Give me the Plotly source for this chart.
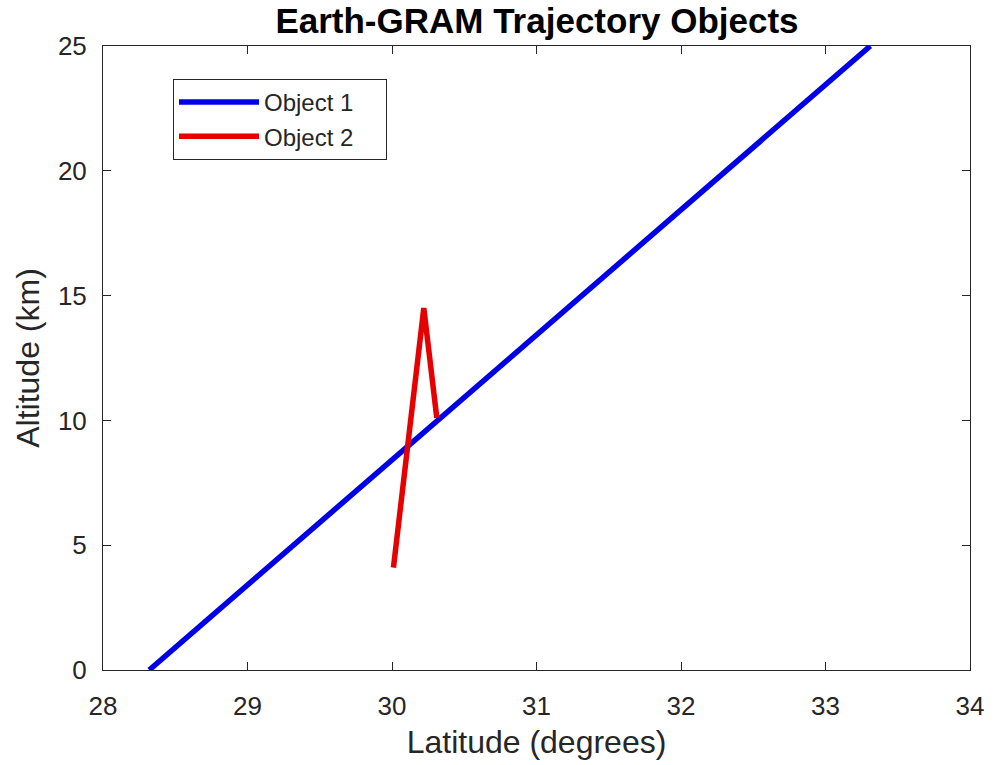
import plotly.graph_objects as go

obj1_lat = [28.32, 29.32, 30.32, 31.32, 32.32, 33.31]
obj1_alt = [0, 5, 10, 15, 20, 25]
obj2_lat = [30.01, 30.22, 30.31]
obj2_alt = [4.1, 14.5, 10.1]

series_names = ["Object 1", "Object 2"]
x_ticks = [28, 29, 30, 31, 32, 33, 34]
y_ticks = [0, 5, 10, 15, 20, 25]

FONT = "Liberation Sans, Arial, sans-serif"
INK = "#262626"
PAD = "\u00a0" * 4

fig = go.Figure()
fig.add_trace(go.Scatter(x=obj1_lat, y=obj1_alt, mode="lines", name=series_names[0] + PAD,
                         line=dict(color="#0000e6", width=5.5)))
fig.add_trace(go.Scatter(x=obj2_lat, y=obj2_alt, mode="lines", name=series_names[1] + PAD,
                         line=dict(color="#e60000", width=5.5)))

axis_common = dict(showgrid=False, zeroline=False, showline=True, mirror="ticks",
                   linecolor=INK, linewidth=1, ticks="inside", ticklen=8,
                   tickcolor=INK, tickfont=dict(family=FONT, size=26, color=INK))

fig.update_xaxes(range=[28, 34], tickvals=x_ticks, ticklabelstandoff=13,
                 title=dict(text="Latitude (degrees)", font=dict(family=FONT, size=32, color=INK), standoff=10),
                 **axis_common)
fig.update_yaxes(range=[0, 25], tickvals=y_ticks, ticklabelstandoff=10,
                 title=dict(text="Altitude (km)", font=dict(family=FONT, size=32, color=INK), standoff=8),
                 **axis_common)

fig.update_layout(
    width=996, height=765,
    margin=dict(l=103, r=26, t=46, b=95),
    plot_bgcolor="white", paper_bgcolor="white",
    title=dict(text="<b>Earth-GRAM Trajectory Objects</b>", x=537 / 996, xanchor="center",
               y=1 - 21 / 765, yanchor="middle",
               font=dict(family=FONT, size=35, color="black")),
    legend=dict(x=(173 - 103) / 867, y=1 - (79 - 46) / 624, xanchor="left", yanchor="top",
                bgcolor="white", bordercolor=INK, borderwidth=1,
                font=dict(family=FONT, size=24, color=INK),
                itemwidth=80, tracegroupgap=0),
    showlegend=True,
)

fig.write_html("out.html", config={"displayModeBar": False},
               post_script="document.body.style.margin='0';document.body.style.padding='0';")
